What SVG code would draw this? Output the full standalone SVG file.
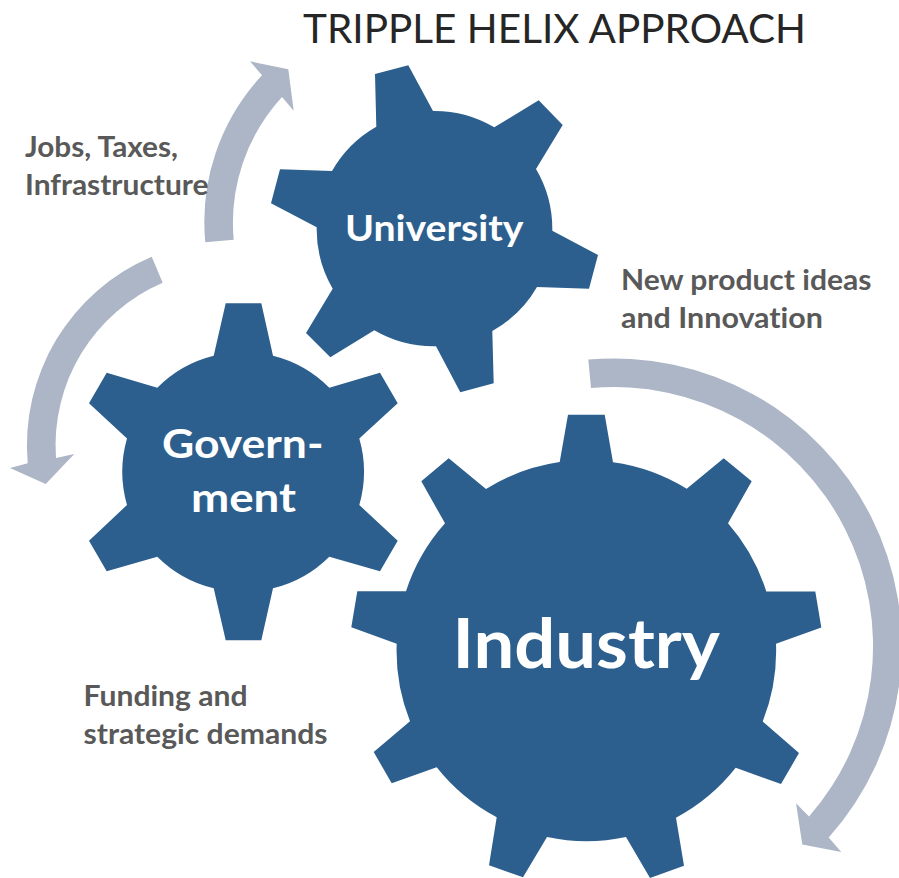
<svg xmlns="http://www.w3.org/2000/svg" width="899" height="878" viewBox="0 0 899 878">
<style>
.gear{fill:#2c5f8d}
.arrow{fill:#adb6c6}
text{font-family:Lato,"Liberation Sans",sans-serif;font-variant-ligatures:none}
.title{font-size:41px;fill:#262626}
.label{font-size:28px;font-weight:700;fill:#595959}
.node{font-weight:700;fill:#fff}
</style>
<rect width="899" height="878" fill="#fff"/>
<g id="connectors">
<path class="arrow" d="M588.3 359.6A287.6 287.6 0 0 1 828.7 837.6L841.3 852L802.3 844.5L796 803.2L809 816.6A259 259 0 0 0 591 388.1Z"/>
<path class="arrow" d="M151.7 256.7A205 205 0 0 0 27.7 463.3L10 468L45.7 484L74.3 454L56 458A177 177 0 0 1 162.7 282.7Z"/>
<path class="arrow" d="M205.3 242.3A215 215 0 0 1 262 75.3L250 61.3L288.3 69.3L293.7 110.7L282 97A186 186 0 0 0 233.7 239.7Z"/>
</g>
<g id="university">
<path class="gear" d="M375 74L408.3 65.3L433 111A118 118 0 0 1 494.3 127.3L538.7 100.3L562.7 125L536 169A118 118 0 0 1 552.3 230.7L598 255L589 288.7L537 287A118 118 0 0 1 492.3 331L493.7 383.3L460.3 392.3L436 346.3A118 118 0 0 1 374.3 330.3L330.3 357.3L306 333L332.7 288.7A118 118 0 0 1 316.7 227.3L271 203.3L280 169.3L332 171A118 118 0 0 1 376.3 126.7Z"/>
<text class="node" x="345" y="240.7" font-size="37" textLength="178.5" lengthAdjust="spacingAndGlyphs">University</text>
</g>
<g id="government">
<path class="gear" d="M225.7 303.3H261.3L273 355.7A120 120 0 0 1 329.3 387.7L380 372.7L397.7 403.3L359.3 438.6A120 120 0 0 1 359.3 505L397.7 540.7L380 571.3L329.3 556.7A120 120 0 0 1 273 588.3L261.3 640.3H225.7L213.7 588.3A120 120 0 0 1 157.3 556.7L106.7 571.3L89 540.7L127 505A120 120 0 0 1 127 438.6L89 403.3L106.7 372.7L157.3 387.7A120 120 0 0 1 213.7 355.7Z"/>
<text class="node" x="162" y="458.3" font-size="41" textLength="161.5" lengthAdjust="spacingAndGlyphs">Govern-</text>
<text class="node" x="191" y="511.7" font-size="41" textLength="105" lengthAdjust="spacingAndGlyphs">ment</text>
</g>
<g id="industry">
<path class="gear" d="M568 414.7H604.7L613 462.3A190 190 0 0 1 686.7 488.8L723.7 458.2L751.7 481.2L728 523.2A190 190 0 0 1 766.3 591.5H815.3L821.3 627.6L776 643.8A190 190 0 0 1 762.7 721.4L799 753L781 784L735.7 767.8A190 190 0 0 1 676 817.7L684 865.8L650 878L626 837A190 190 0 0 1 547 837L523 877.3L489 865.3L496.7 817.3A190 190 0 0 1 436.7 767.3L391.7 783.3L373.7 752L410 721.3A190 190 0 0 1 396.7 643.7L351.3 627.3L357.3 591.3H406A190 190 0 0 1 445 523.3L421.3 481.3L448.7 458.3L486 489A190 190 0 0 1 559.7 462Z"/>
<text class="node" x="452.5" y="667.7" font-size="69" textLength="267.5" lengthAdjust="spacingAndGlyphs">Industry</text>
</g>
<text class="title" x="303" y="43" textLength="503" lengthAdjust="spacingAndGlyphs">TRIPPLE HELIX APPROACH</text>
<text class="label" x="25" y="156.7" textLength="153" lengthAdjust="spacingAndGlyphs">Jobs, Taxes,</text>
<text class="label" x="25" y="194.7" textLength="183.5" lengthAdjust="spacingAndGlyphs">Infrastructure</text>
<text class="label" x="621" y="290" textLength="250.5" lengthAdjust="spacingAndGlyphs">New product ideas</text>
<text class="label" x="621" y="328" textLength="202" lengthAdjust="spacingAndGlyphs">and Innovation</text>
<text class="label" x="83.5" y="705.7" textLength="164" lengthAdjust="spacingAndGlyphs">Funding and</text>
<text class="label" x="83.5" y="743.7" textLength="244" lengthAdjust="spacingAndGlyphs">strategic demands</text>
</svg>
